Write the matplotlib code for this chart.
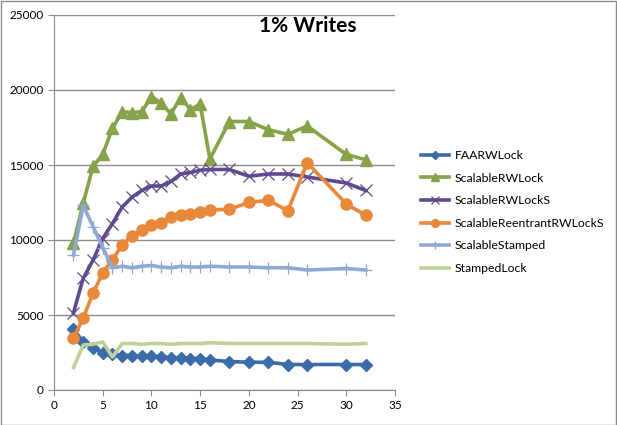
import matplotlib
matplotlib.use("Agg")
import matplotlib.pyplot as plt

# thread counts
threads = [2, 3, 4, 5, 6, 7, 8, 9, 10, 11, 12, 13, 14, 15, 16, 18, 20, 22, 24, 26, 30, 32]

faarw_lock = [4050, 3200, 2800, 2500, 2400, 2300, 2300, 2250, 2250, 2200, 2150, 2150,
              2100, 2100, 2000, 1900, 1850, 1850, 1700, 1700, 1700, 1700]
scalable_rw_lock = [9800, 12450, 14900, 15700, 17450, 18550, 18500, 18550, 19550, 19150, 18400,
                    19500, 18700, 19050, 15400, 17900, 17900, 17350, 17050, 17600, 15700, 15350]
scalable_rw_lock_s = [5150, 7450, 8650, 10100, 11100, 12200, 12850, 13300, 13600, 13600, 13900,
                      14400, 14500, 14650, 14700, 14700, 14250, 14400, 14400, 14200, 13800, 13300]
scalable_reentrant = [3450, 4800, 6450, 7800, 8700, 9650, 10300, 10650, 11000, 11150, 11550,
                      11700, 11750, 11900, 12000, 12050, 12500, 12650, 11950, 15150, 12400, 11650]
scalable_stamped = [9000, 12300, 10900, 9500, 8150, 8250, 8150, 8250, 8300, 8200, 8150,
                    8250, 8200, 8200, 8250, 8200, 8200, 8150, 8150, 8000, 8100, 8000]
stamped_lock = [1500, 3000, 3050, 3200, 2200, 3100, 3100, 3050, 3100, 3100, 3050,
                3100, 3100, 3100, 3150, 3100, 3100, 3100, 3100, 3100, 3050, 3100]

series = [
    ('FAARWLock', faarw_lock, '#3B6BA8', 'D', 6, 1),
    ('ScalableRWLock', scalable_rw_lock, '#86A34A', '^', 8, 1),
    ('ScalableRWLockS', scalable_rw_lock_s, '#5E4A8C', 'x', 8, 0.9),
    ('ScalableReentrantRWLockS', scalable_reentrant, '#E8883A', 'o', 8, 1),
    ('ScalableStamped', scalable_stamped, '#90A9D4', '+', 9, 0.9),
    ('StampedLock', stamped_lock, '#BFD199', None, 0, 1),
]

plt.rcParams['font.family'] = ['Lato', 'DejaVu Sans']

W, H = 617, 425
fig = plt.figure(figsize=(W / 100, H / 100), dpi=100)
ax = fig.add_axes([54 / W, 35 / H, 341 / W, 375 / H])

for name, values, color, marker, size, mew in series:
    ax.plot(threads, values, color=color, linewidth=2.6, marker=marker,
            markersize=size, markeredgewidth=mew, markeredgecolor=color,
            markerfacecolor=color, label=name)

ax.set_xlim(0, 35)
ax.set_ylim(0, 25000)
ax.set_xticks(range(0, 36, 5))
ax.set_yticks(range(0, 25001, 5000))
ax.grid(axis='y', color='#8C8C8C', linewidth=1)
ax.set_axisbelow(True)
for side in ['top', 'right']:
    ax.spines[side].set_visible(False)
for side in ['left', 'bottom']:
    ax.spines[side].set_color('#8C8C8C')
ax.tick_params(axis='both', colors='#8C8C8C', labelcolor='black', labelsize=8.5,
               direction='out', length=4)

fig.text(308 / W, 1 - 26 / H, '1% Writes', ha='center', va='center',
         fontsize=15, fontweight='bold')

fig.legend(loc='center left', bbox_to_anchor=(421 / W, 1 - 212 / H), frameon=False,
           fontsize=8.8, handlelength=2.3, handletextpad=0.45, labelspacing=0.95,
           markerscale=0.7, borderaxespad=0, borderpad=0)

# thin border around the whole chart
fig.patches.append(plt.Rectangle((0.5 / W, 0.5 / H), 1 - 1.5 / W, 1 - 1.5 / H,
                                 transform=fig.transFigure, fill=False,
                                 edgecolor='#8C8C8C', linewidth=1))

fig.savefig('out.png', dpi=100)
